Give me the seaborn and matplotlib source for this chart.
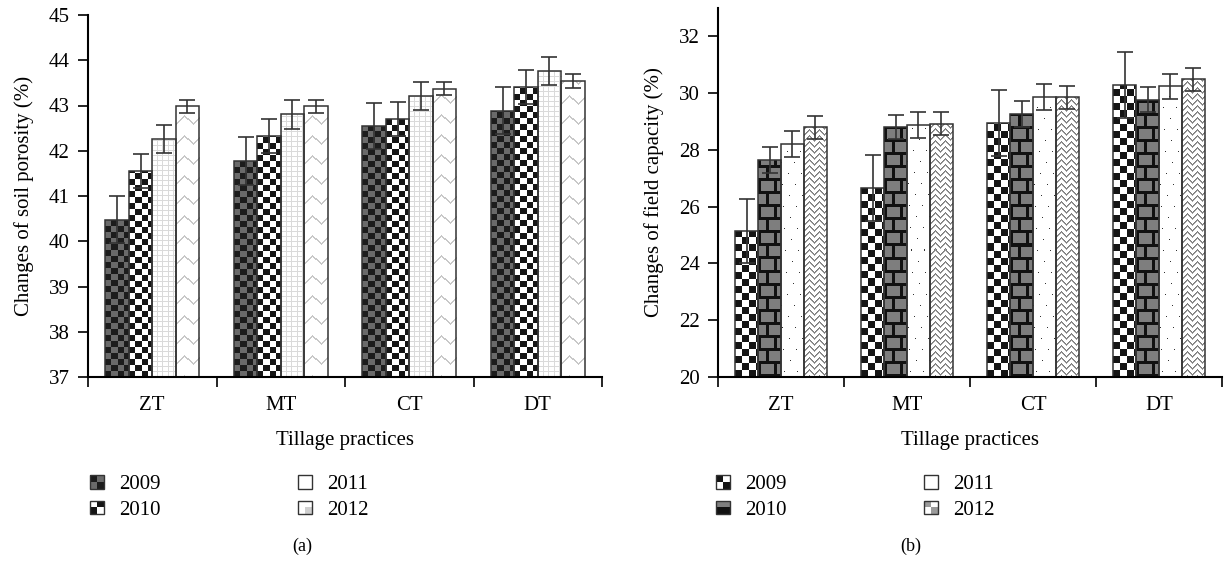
import numpy as np
import pandas as pd
import matplotlib
matplotlib.use("Agg")
import matplotlib.pyplot as plt
import matplotlib.colors as mcolors
import seaborn as sns
from matplotlib.patches import Rectangle
from matplotlib.legend_handler import HandlerBase
from matplotlib.container import BarContainer

# ---------------- data ----------------
categories = ["ZT", "MT", "CT", "DT"]
years = ["2009", "2010", "2011", "2012"]

porosity_2009 = [40.48, 41.77, 42.54, 42.88]
porosity_2010 = [41.55, 42.32, 42.70, 43.41]
porosity_2011 = [42.26, 42.81, 43.20, 43.76]
porosity_2012 = [42.98, 42.98, 43.37, 43.54]
porosity_err_2009 = [0.52, 0.53, 0.51, 0.52]
porosity_err_2010 = [0.38, 0.38, 0.38, 0.38]
porosity_err_2011 = [0.31, 0.32, 0.31, 0.31]
porosity_err_2012 = [0.14, 0.14, 0.14, 0.15]

capacity_2009 = [25.14, 26.66, 28.95, 30.29]
capacity_2010 = [27.65, 28.82, 29.27, 29.76]
capacity_2011 = [28.20, 28.89, 29.86, 30.24]
capacity_2012 = [28.80, 28.92, 29.85, 30.49]
capacity_err_2009 = [1.13, 1.15, 1.15, 1.15]
capacity_err_2010 = [0.47, 0.42, 0.45, 0.44]
capacity_err_2011 = [0.46, 0.46, 0.47, 0.45]
capacity_err_2012 = [0.41, 0.41, 0.41, 0.41]

porosity_ticks = [37, 38, 39, 40, 41, 42, 43, 44, 45]
capacity_ticks = [20, 22, 24, 26, 28, 30, 32]


def long_frame(series):
    rows = []
    for y, vals in zip(years, series):
        for c, v in zip(categories, vals):
            rows.append({"Tillage": c, "Year": y, "Value": v})
    return pd.DataFrame(rows)


df_por = long_frame([porosity_2009, porosity_2010, porosity_2011, porosity_2012])
df_cap = long_frame([capacity_2009, capacity_2010, capacity_2011, capacity_2012])
err_por = [porosity_err_2009, porosity_err_2010, porosity_err_2011, porosity_err_2012]
err_cap = [capacity_err_2009, capacity_err_2010, capacity_err_2011, capacity_err_2012]

# ---------------- style ----------------
FS = 15
sns.set_theme(style="white")
plt.rcParams["font.family"] = ["Liberation Serif", "DejaVu Serif"]
plt.rcParams["font.size"] = FS
plt.rcParams["text.color"] = "black"
plt.rcParams["axes.labelcolor"] = "black"
plt.rcParams["xtick.color"] = "black"
plt.rcParams["ytick.color"] = "black"


def rgb(c):
    return np.array(mcolors.to_rgb(c))


def texture(kind, w, h):
    yy, xx = np.mgrid[0:h, 0:w]
    img = np.ones((h, w, 3))
    if kind == "chk_dark":
        m = ((xx // 6 + yy // 6) % 2 == 0)
        img[:] = rgb("#6a6a6a")
        img[m] = rgb("#1c1c1c")
    elif kind == "chk_bw6":
        m = ((xx // 6 + yy // 6) % 2 == 0)
        img[m] = rgb("#151515")
    elif kind == "grid":
        m = (xx % 5 == 0) | (yy % 5 == 0)
        img[m] = rgb("#dadada")
    elif kind == "zig_light":
        tri = np.abs((xx % 16) - 8)
        m = ((yy + tri) % 20 < 2)
        img[m] = rgb("#c8c8c8")
    elif kind == "chk_bw7":
        m = ((xx // 7 + yy // 7) % 2 == 0)
        img[m] = rgb("#151515")
    elif kind == "brick":
        row = yy // 13
        ry = yy % 13
        off = (row % 2) * 8
        bx = (xx + off) % 16
        m = (ry < 3) | (bx < 3)
        img[:] = rgb("#7e7e7e")
        img[m] = rgb("#111111")
    elif kind == "dots":
        m = ((yy % 11) == 5) & (((xx + 7 * (yy // 11)) % 13) == 3)
        img[m] = rgb("#333333")
    elif kind == "zig_gray":
        tri = np.abs((xx % 10) - 5)
        m = ((yy + tri) % 6 < 3) & ((xx + yy) % 2 == 0)
        m2 = ((yy + tri) % 6 < 2)
        img[m2] = rgb("#a0a0a0")
        img[m] = rgb("#7a7a7a")
    return img


icon_cells = {
    "chk_dark": [["#6a6a6a", "#1c1c1c"], ["#1c1c1c", "#6a6a6a"]],
    "chk_bw6": [["#151515", "#ffffff"], ["#ffffff", "#151515"]],
    "grid": [["#ffffff", "#ffffff"], ["#ffffff", "#ffffff"]],
    "zig_light": [["#ffffff", "#cfcfcf"], ["#ffffff", "#ffffff"]],
    "chk_bw7": [["#ffffff", "#151515"], ["#151515", "#ffffff"]],
    "brick": [["#111111", "#111111"], ["#7e7e7e", "#7e7e7e"]],
    "dots": [["#ffffff", "#ffffff"], ["#ffffff", "#ffffff"]],
    "zig_gray": [["#ffffff", "#9a9a9a"], ["#9a9a9a", "#ffffff"]],
}


class TexHandler(HandlerBase):
    def __init__(self, kind):
        super().__init__()
        self.kind = kind

    def create_artists(self, legend, orig_handle, xdescent, ydescent,
                       width, height, fontsize, trans):
        arts = []
        cells = icon_cells[self.kind]
        cw, ch = width / 2, height / 2
        for r in range(2):  # r=0 bottom
            for c in range(2):
                arts.append(Rectangle((-xdescent + c * cw, -ydescent + r * ch), cw, ch,
                                      facecolor=cells[r][c], edgecolor="none",
                                      transform=trans))
        arts.append(Rectangle((-xdescent, -ydescent), width, height, facecolor="none",
                              edgecolor="#333333", linewidth=1.0, transform=trans))
        return arts


fig = plt.figure(figsize=(12.24, 5.64), dpi=100)
W, H = 1224, 564
ax1 = fig.add_axes([88 / W, 1 - 377 / H, (602 - 88) / W, (377 - 15) / H])
ax2 = fig.add_axes([718 / W, 1 - 377 / H, (1222 - 718) / W, (377 - 8) / H])


def draw_panel(ax, df, errs, ylim, yticks, ylabel, kinds, legend_xy):
    sns.barplot(data=df, x="Tillage", y="Value", hue="Year", order=categories,
                hue_order=years, errorbar=None, width=0.73, ax=ax, legend=False,
                palette=["#ffffff"] * 4, saturation=1)
    ax.set_xlim(-0.5, 3.5)
    ax.set_ylim(*ylim)
    bar_conts = [c for c in ax.containers if isinstance(c, BarContainer)]
    for hi, cont in enumerate(bar_conts):
        xs, ys = [], []
        for ci, p in enumerate(cont.patches):
            x0 = p.get_x()
            x1 = x0 + p.get_width()
            top = p.get_y() + p.get_height()
            y0 = ylim[0]
            (px0, py0), (px1, py1) = ax.transData.transform([(x0, y0), (x1, top)])
            w = max(int(round(px1 - px0)), 1)
            h = max(int(round(py1 - py0)), 1)
            img = texture(kinds[hi], w, h)
            im = ax.imshow(img, extent=(x0, x1, y0, top), origin="lower",
                           interpolation="nearest", aspect="auto", zorder=1.5)
            im.set_clip_path(p)
            p.set_facecolor("none")
            p.set_edgecolor("#333333")
            p.set_linewidth(1.1)
            p.set_zorder(2)
            xs.append(x0 + p.get_width() / 2)
            ys.append(top)
        ax.errorbar(xs, ys, yerr=errs[hi], fmt="none", ecolor="#333333",
                    elinewidth=1.2, capsize=6, capthick=1.2, zorder=3)
    ax.set_xlim(-0.5, 3.5)
    ax.set_ylim(*ylim)
    ax.set_yticks(yticks)
    ax.set_yticklabels([str(t) for t in yticks])
    ax.set_xticks(range(len(categories)))
    ax.set_xticklabels(categories)
    ax.set_xticks([-0.5, 0.5, 1.5, 2.5, 3.5], minor=True)
    ax.tick_params(axis="x", which="major", length=0, pad=14, labelsize=FS)
    ax.tick_params(axis="x", which="minor", length=7, width=1.2, direction="out",
                   bottom=True)
    ax.tick_params(axis="y", length=7, width=1.2, direction="out", left=True,
                   pad=6, labelsize=FS)
    for s in ["top", "right"]:
        ax.spines[s].set_visible(False)
    for s in ["left", "bottom"]:
        ax.spines[s].set_color("black")
        ax.spines[s].set_linewidth(1.5)
    ax.set_xlabel("Tillage practices", fontsize=FS, labelpad=11)
    ax.set_ylabel(ylabel, fontsize=FS, labelpad=11)
    ax.grid(False)

    handles = [Rectangle((0, 0), 1, 1) for _ in years]
    hmap = {hd: TexHandler(k) for hd, k in zip(handles, kinds)}
    ax.legend(handles, years, handler_map=hmap, ncol=2, loc="upper left",
              bbox_to_anchor=legend_xy, bbox_transform=fig.transFigure,
              frameon=False, fontsize=FS, handlelength=0.65, handleheight=0.65,
              handletextpad=0.75, columnspacing=6.6, labelspacing=0.3,
              borderpad=0, borderaxespad=0)


draw_panel(ax1, df_por, err_por, (37, 45), porosity_ticks,
           "Changes of soil porosity (%)",
           ["chk_dark", "chk_bw6", "grid", "zig_light"], (90 / W, 1 - 475 / H))
draw_panel(ax2, df_cap, err_cap, (20, 33), capacity_ticks,
           "Changes of field capacity (%)",
           ["chk_bw7", "brick", "dots", "zig_gray"], (716 / W, 1 - 475 / H))

fig.text(302 / W, 1 - 546 / H, "(a)", ha="center", va="center", fontsize=13)
fig.text(911 / W, 1 - 546 / H, "(b)", ha="center", va="center", fontsize=13)

fig.savefig("out.png", dpi=100)
